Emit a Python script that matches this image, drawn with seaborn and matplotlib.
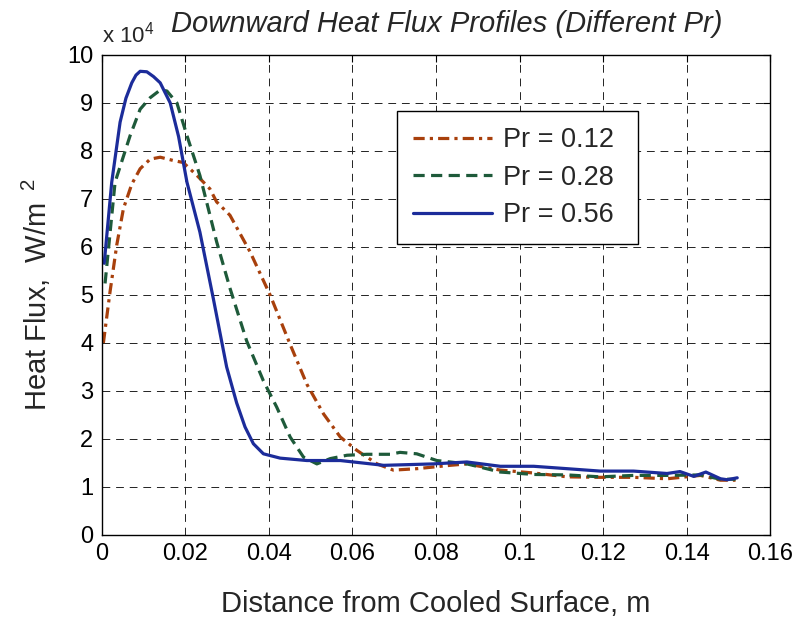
import numpy as np
import pandas as pd
import seaborn as sns
import matplotlib.pyplot as plt

sns.set_style("white")
plt.rcParams['font.family'] = ['Liberation Sans', 'DejaVu Sans']
plt.rcParams['mathtext.fontset'] = 'custom'
plt.rcParams['mathtext.rm'] = 'Liberation Sans'

# Pr = 0.12 (distance in m, heat flux in 1e4 W/m^2)
x_012 = [0.0004, 0.002, 0.0036, 0.0052, 0.0072, 0.0092, 0.0116, 0.014, 0.0172, 0.0195,
         0.0228, 0.0259, 0.0275, 0.0307, 0.0355, 0.0403, 0.0451, 0.0491, 0.0531, 0.0571,
         0.0611, 0.0659, 0.0698, 0.0754, 0.0834, 0.0874, 0.0954, 0.1034, 0.1114, 0.1193,
         0.1273, 0.1353, 0.1433, 0.1481, 0.1517]
q_012 = [4.0, 5.07, 6.04, 6.8, 7.31, 7.63, 7.83, 7.87, 7.8, 7.76,
         7.49, 7.21, 6.94, 6.66, 5.9, 5.0, 3.97, 3.14, 2.52, 2.04,
         1.76, 1.48, 1.35, 1.38, 1.45, 1.48, 1.35, 1.29, 1.21, 1.2,
         1.2, 1.17, 1.24, 1.14, 1.14]

# Pr = 0.28
x_028 = [0.0008, 0.0032, 0.0068, 0.0092, 0.0116, 0.014, 0.0156, 0.018, 0.0204, 0.0235,
         0.0251, 0.0275, 0.0307, 0.0347, 0.0387, 0.0419, 0.0451, 0.0483, 0.0515, 0.0547,
         0.0587, 0.0635, 0.069, 0.0714, 0.0754, 0.0802, 0.0874, 0.0954, 0.1034, 0.1114,
         0.1193, 0.1273, 0.1353, 0.1433, 0.1481, 0.1517]
q_028 = [5.24, 7.35, 8.32, 8.87, 9.11, 9.27, 9.25, 9.0, 8.32, 7.49,
         6.94, 6.11, 5.14, 4.04, 3.21, 2.66, 2.04, 1.62, 1.48, 1.59,
         1.66, 1.68, 1.68, 1.72, 1.69, 1.55, 1.48, 1.31, 1.26, 1.25,
         1.21, 1.24, 1.24, 1.25, 1.16, 1.16]

# Pr = 0.56
x_056 = [0.0006, 0.0024, 0.0044, 0.0058, 0.0072, 0.0082, 0.0092, 0.0108, 0.0124, 0.014,
         0.0164, 0.0184, 0.0204, 0.0235, 0.0267, 0.0299, 0.0323, 0.0343, 0.0363, 0.0387,
         0.0427, 0.0491, 0.0571, 0.0675, 0.0794, 0.0874, 0.0954, 0.1034, 0.1114, 0.1193,
         0.1273, 0.1353, 0.1384, 0.1417, 0.1446, 0.1481, 0.1497, 0.1521]
q_056 = [5.66, 7.35, 8.6, 9.1, 9.42, 9.58, 9.66, 9.65, 9.55, 9.42,
         9.0, 8.3, 7.35, 6.31, 4.93, 3.5, 2.75, 2.25, 1.9, 1.69,
         1.6, 1.55, 1.55, 1.45, 1.48, 1.52, 1.43, 1.43, 1.38, 1.33,
         1.33, 1.28, 1.32, 1.22, 1.31, 1.17, 1.15, 1.19]

fig = plt.figure(figsize=(8.04, 6.22), dpi=100)
ax = fig.add_axes([0.1265, 0.140, 0.8315, 0.7716])

lw = 2.3
sns.lineplot(x=x_012, y=q_012, ax=ax, color='#A8400C', lw=lw,
             linestyle=(0, (3.5, 1.6, 1.0, 1.6)), label='Pr = 0.12 ', sort=False)
sns.lineplot(x=x_028, y=q_028, ax=ax, color='#1E5A3A', lw=lw,
             linestyle=(0, (3.5, 2.0)), label='Pr = 0.28 ', sort=False)
sns.lineplot(x=x_056, y=q_056, ax=ax, color='#1C2C9A', lw=lw,
             linestyle='-', label='Pr = 0.56 ', sort=False)

ax.set_xlim(0, 0.16)
ax.set_ylim(0, 10)
ax.set_xticks(np.arange(0, 0.161, 0.02))
ax.set_xticklabels(['0', '0.02', '0.04', '0.06', '0.08', '0.1', '0.12', '0.14', '0.16'])
ax.set_yticks(range(0, 11))
ax.tick_params(direction='in', top=True, right=True, length=5, width=0.8,
               labelsize=17, colors='black', pad=6)
ax.grid(True, color='#222222', linestyle=(0, (8, 6)), lw=0.7)
for s in ax.spines.values():
    s.set_color('black')
    s.set_linewidth(1.0)

ax.set_xlabel('Distance from Cooled Surface, m', fontsize=21, labelpad=18)
ax.set_ylabel('Heat Flux,  W/m $^{\\,2}$', fontsize=21, labelpad=10)
ax.set_title('Downward Heat Flux Profiles (Different Pr)', fontsize=21,
             style='italic', x=0.516, y=1.03)
ax.text(0.0, 1.015, 'x 10$^{4}$', transform=ax.transAxes, fontsize=16,
        ha='left', va='bottom')

leg = ax.legend(loc='upper left', bbox_to_anchor=(0.442, 0.883), fontsize=19.5,
                frameon=True, fancybox=False, edgecolor='black', framealpha=1,
                handlelength=2.9, handletextpad=0.4, borderpad=0.6,
                labelspacing=0.42, borderaxespad=0)
leg.get_frame().set_linewidth(1.0)

fig.savefig('out.png', dpi=100)
